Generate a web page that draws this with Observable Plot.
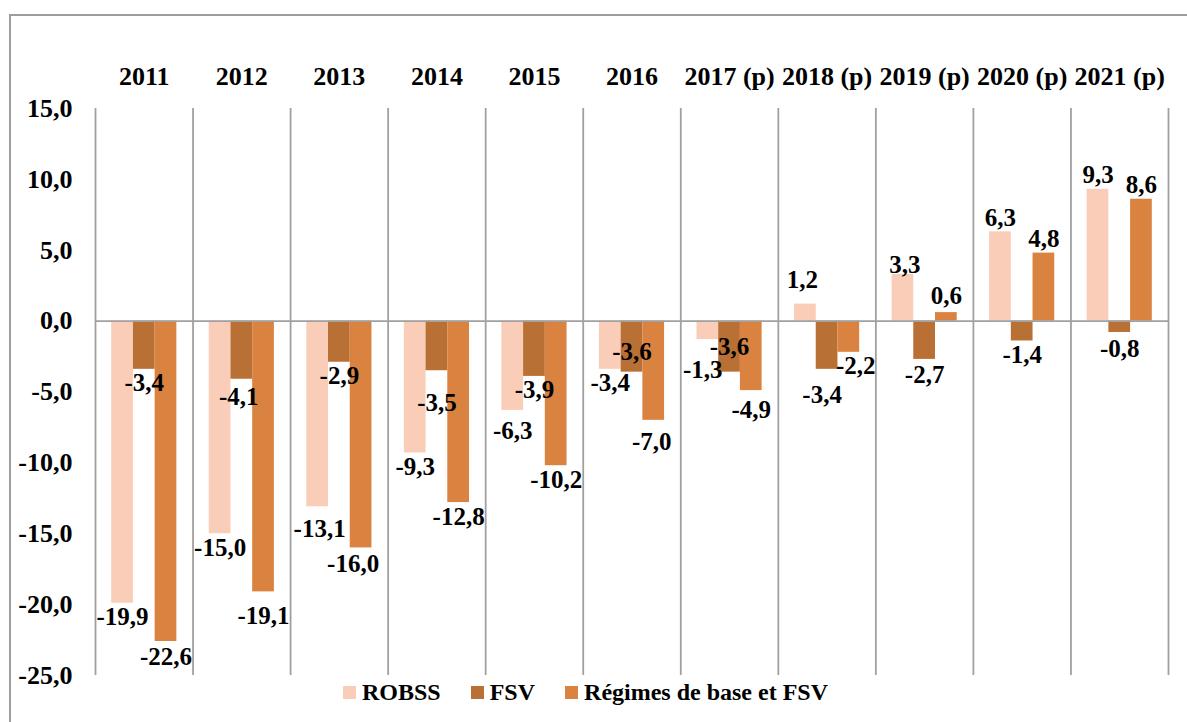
<!DOCTYPE html>
<html><head><meta charset="utf-8">
<script src="https://cdn.jsdelivr.net/npm/d3@7"></script>
<script src="https://cdn.jsdelivr.net/npm/@observablehq/plot@0.6"></script>
<style>
html,body{margin:0;padding:0;background:#fff;}
body{width:1187px;height:722px;overflow:hidden;position:relative;font-family:"Liberation Serif","Times New Roman",serif;}
#chart{position:absolute;left:0;top:0;}
#frame{position:absolute;left:9px;top:14px;width:1220px;height:760px;border:2px solid #9d9d9d;box-sizing:border-box;}
#legend{position:absolute;left:343px;top:678px;display:flex;gap:30px;font-weight:bold;font-size:24px;line-height:28px;color:#000;}
.item{display:flex;align-items:center;}
.sw{width:13px;height:13px;margin-right:6px;}
</style></head><body>
<div id="chart"></div><div id="legend"></div><div id="frame"></div>
<script>
const years = ["2011","2012","2013","2014","2015","2016","2017 (p)","2018 (p)","2019 (p)","2020 (p)","2021 (p)"];
const seriesNames = ["ROBSS","FSV","Régimes de base et FSV"];
const robss = [-19.9,-15.0,-13.1,-9.3,-6.3,-3.4,-1.3,1.2,3.3,6.3,9.3];
const fsv = [-3.4,-4.1,-2.9,-3.5,-3.9,-3.6,-3.6,-3.4,-2.7,-1.4,-0.8];
const regimes = [-22.6,-19.1,-16.0,-12.8,-10.2,-7.0,-4.9,-2.2,0.6,4.8,8.6];
const yTicks = [15,10,5,0,-5,-10,-15,-20,-25];
const colors = ["#FACDB9","#B97034","#DA8340"];

// label placement nudges (pixels), keyed "seriesIndex|year"
const labelNudges = {
  "2|2011":[0,2], "1|2012":[-3,4], "2|2012":[0,10],
  "0|2013":[2,8], "2|2013":[-8,2],
  "1|2014":[0,18], "0|2015":[0,7],
  "1|2016":[0,-34], "2|2016":[-2,8],
  "0|2017":[-5,16], "1|2017":[0,-39], "2|2017":[0,5],
  "0|2018":[-3,-10], "1|2018":[-5,12], "2|2018":[7,0],
  "0|2019":[2,5], "1|2019":[0,2], "2|2019":[0,-3],
  "1|2021":[0,3]
};

const W = 1187, H = 722, ml = 95, mr = 19, mt = 108, mb = 47;
const bw = (W - ml - mr) / years.length;
const pad = bw * 0.166;
const barW = (bw - 2 * pad) / 3;
const fmt = v => v.toFixed(1).replace(".", ",");
const font = {fontFamily: "Liberation Serif, Times New Roman, serif", fontWeight: "bold", fill: "#000"};

const seriesValues = [robss, fsv, regimes];
const rows = seriesValues.map((vals, k) => years.map((y, i) => ({year: y, value: vals[i], k})));

const marks = [];
// separators
marks.push(Plot.ruleX(years, {x: d => d, dx: -bw / 2, y1: -25, y2: 15, stroke: "#a0a0a0", strokeWidth: 1.8}));
marks.push(Plot.ruleX([years[years.length - 1]], {x: d => d, dx: bw / 2, y1: -25, y2: 15, stroke: "#a0a0a0", strokeWidth: 1.8}));
// bars
rows.forEach((r, k) => {
  marks.push(Plot.barY(r, {x: "year", y: "value", fill: colors[k],
    insetLeft: pad + k * barW, insetRight: bw - pad - (k + 1) * barW}));
});
// zero line
marks.push(Plot.ruleY([0], {stroke: "#a0a0a0", strokeWidth: 1.8}));
// value labels
rows.forEach((r, k) => {
  r.forEach(d => {
    const key = k + "|" + d.year.slice(0, 4);
    const [ndx, ndy] = labelNudges[key] || [0, 0];
    marks.push(Plot.text([d], {x: "year", y: "value", text: dd => fmt(dd.value),
      dx: -bw / 2 + pad + (k + 0.5) * barW + ndx,
      dy: (d.value < 0 ? 14 : -14) + ndy, fontSize: 25, ...font}));
  });
});
// y tick labels
marks.push(Plot.text(yTicks, {y: d => d, frameAnchor: "left", dx: -23, textAnchor: "end", lineAnchor: "middle",
  text: d => fmt(d), fontSize: 26, ...font}));
// category labels
marks.push(Plot.text(years, {x: d => d, frameAnchor: "top", lineAnchor: "middle", dy: -32, text: d => d, fontSize: 26, ...font}));

const chart = Plot.plot({
  width: W, height: H,
  marginLeft: ml, marginRight: mr, marginTop: mt, marginBottom: mb,
  style: {background: "transparent", fontFamily: "Liberation Serif, serif"},
  x: {type: "band", domain: years, padding: 0, round: false, axis: null},
  y: {domain: [-25, 15], axis: null},
  marks
});
document.getElementById("chart").appendChild(chart);

const legend = document.getElementById("legend");
seriesNames.forEach((n, k) => {
  const it = document.createElement("div"); it.className = "item";
  const sw = document.createElement("div"); sw.className = "sw"; sw.style.background = colors[k];
  const t = document.createElement("span"); t.textContent = n;
  it.appendChild(sw); it.appendChild(t); legend.appendChild(it);
});
</script>
</body></html>
